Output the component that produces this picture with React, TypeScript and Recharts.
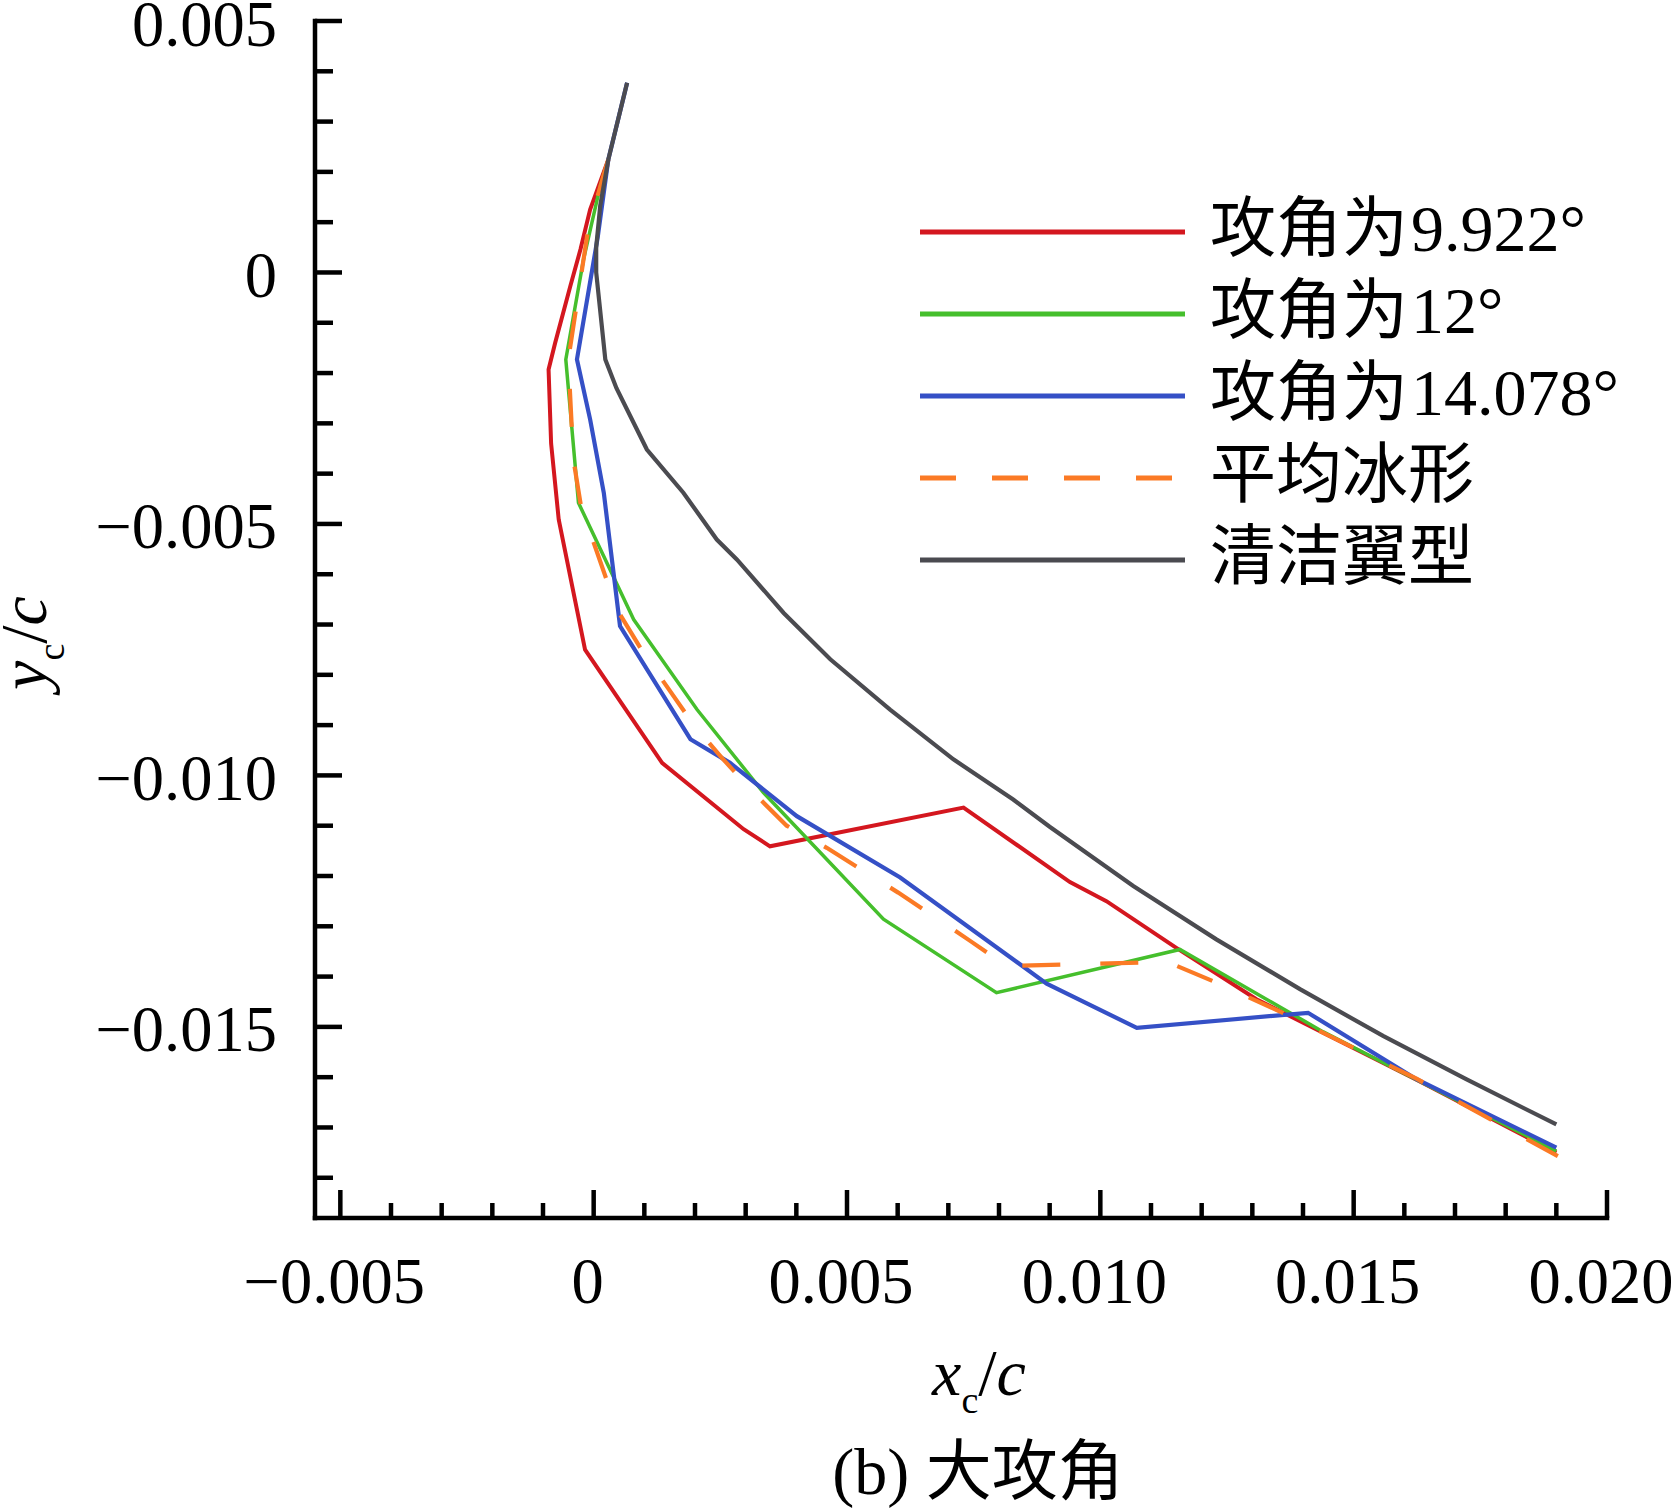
import React from "react";
import { LineChart, Line, XAxis, YAxis, Legend } from "recharts";

// ice shape contours, values in units of 1e-3 (x_c/c, y_c/c)
const cleanAirfoil: [number, number][] = [
  [0.66, 3.77], [0.29, 2.25], [0.13, 1.33], [0.05, 0.5], [0.05, 0.0],
  [0.23, -1.73], [0.45, -2.3], [1.05, -3.52], [1.77, -4.38], [2.43, -5.31],
  [2.83, -5.71], [3.75, -6.77], [4.67, -7.69], [5.85, -8.69], [7.1, -9.68],
  [8.28, -10.48], [9.0, -11.02], [10.65, -12.2], [12.29, -13.26],
  [13.94, -14.25], [15.58, -15.18], [17.22, -16.04], [19.0, -16.94],
];

const aoa9922: [number, number][] = [
  [0.29, 2.25], [-0.07, 1.25], [-0.26, 0.46], [-0.46, -0.27], [-0.76, -1.4],
  [-0.89, -1.93], [-0.84, -3.4], [-0.69, -4.91], [-0.17, -7.5], [1.35, -9.75],
  [2.96, -11.07], [3.48, -11.41], [7.3, -10.64], [9.4, -12.12], [10.12, -12.5],
  [11.5, -13.43], [13.08, -14.45], [16.24, -16.05], [19.0, -17.5],
];

const aoa12: [number, number][] = [
  [0.29, 2.25], [0.13, 1.72], [-0.2, 0.26], [-0.55, -1.73], [-0.3, -4.58],
  [0.79, -6.9], [2.04, -8.69], [3.35, -10.34], [5.72, -12.86], [7.95, -14.32],
  [11.57, -13.46], [14.4, -15.1], [16.24, -16.05], [19.0, -17.47],
];

const aoa14078: [number, number][] = [
  [0.66, 3.77], [0.29, 2.25], [0.08, 0.7], [-0.33, -1.73], [-0.07, -2.92],
  [0.2, -4.38], [0.52, -7.03], [1.91, -9.28], [2.69, -9.75], [4.01, -10.81],
  [6.05, -12.03], [8.94, -14.14], [10.72, -15.02], [14.1, -14.72],
  [16.24, -16.04], [19.0, -17.4],
];

const meanIce: [number, number][] = [
  [0.29, 2.25], [-0.1, 0.92], [-0.5, -1.73], [-0.4, -3.72], [-0.25, -4.65],
  [0.46, -6.7], [0.98, -7.56], [1.97, -8.99], [2.53, -9.65], [3.22, -10.41],
  [3.81, -11.0], [4.6, -11.44], [6.01, -12.33], [7.43, -13.29], [8.15, -13.79],
  [10.9, -13.72], [11.3, -13.7], [12.29, -14.12], [13.6, -14.72],
  [16.24, -16.03], [19.03, -17.57],
];

const xMajorTicks = [-0.005, 0, 0.005, 0.01, 0.015, 0.02];
const xMajorLabels = ["\u22120.005", "0", "0.005", "0.010", "0.015", "0.020"];
const xAllTicks = [
  -0.005, -0.004, -0.003, -0.002, -0.001, 0, 0.001, 0.002, 0.003, 0.004,
  0.005, 0.006, 0.007, 0.008, 0.009, 0.01, 0.011, 0.012, 0.013, 0.014,
  0.015, 0.016, 0.017, 0.018, 0.019, 0.02,
];

const yMajorTicks = [0.005, 0, -0.005, -0.01, -0.015];
const yMajorLabels = ["0.005", "0", "\u22120.005", "\u22120.010", "\u22120.015"];
const yAllTicks = [
  0.005, 0.004, 0.003, 0.002, 0.001, 0, -0.001, -0.002, -0.003, -0.004,
  -0.005, -0.006, -0.007, -0.008, -0.009, -0.01, -0.011, -0.012, -0.013,
  -0.014, -0.015, -0.016, -0.017, -0.018,
];

const SERIF = "'Liberation Serif', 'Times New Roman', serif";
const CJK = "'Noto Sans CJK SC', sans-serif";
const FONT = "'Liberation Serif', 'Times New Roman', 'Noto Sans CJK SC', serif";

const toPoints = (arr: [number, number][]) =>
  arr.map(([x, y]) => ({ x: x / 1000, y: y / 1000 }));

const series = [
  { key: "a9922", han: "攻角为", rest: "9.922°", color: "#d4171f", width: 4, dash: false, pts: aoa9922 },
  { key: "a12", han: "攻角为", rest: "12°", color: "#45bf2c", width: 3.5, dash: false, pts: aoa12 },
  { key: "a14078", han: "攻角为", rest: "14.078°", color: "#3550c6", width: 4.2, dash: false, pts: aoa14078 },
  { key: "mean", han: "平均冰形", rest: "", color: "#fb7a25", width: 4.2, dash: true, pts: meanIce },
  { key: "clean", han: "清洁翼型", rest: "", color: "#4b4b50", width: 4.2, dash: false, pts: cleanAirfoil },
];

const findMajor = (list: number[], v: number) =>
  list.findIndex((m) => Math.abs(m - v) < 1e-9);

const renderXTick = (props: any) => {
  const { x, y, payload } = props;
  const idx = findMajor(xMajorTicks, payload.value);
  const major = idx >= 0;
  return (
    <g>
      <line x1={x} x2={x} y1={y} y2={y - (major ? 28 : 15)} stroke="#000" strokeWidth={4.5} />
      {major && (
        <text x={x - 6} y={y + 85} textAnchor="middle" fontSize={64.5} fontFamily={SERIF} fill="#000">
          {xMajorLabels[idx]}
        </text>
      )}
    </g>
  );
};

const renderYTick = (props: any) => {
  const { x, y, payload } = props;
  const idx = findMajor(yMajorTicks, payload.value);
  const major = idx >= 0;
  return (
    <g>
      <line x1={x} x2={x + (major ? 27 : 18)} y1={y} y2={y} stroke="#000" strokeWidth={4.5} />
      {major && (
        <text x={x - 38} y={y} dy="0.38em" textAnchor="end" fontSize={64.5} fontFamily={SERIF} fill="#000">
          {yMajorLabels[idx]}
        </text>
      )}
    </g>
  );
};

const XLabel = () => (
  <text x={979} y={1395} textAnchor="middle" fontSize={66} fontFamily={SERIF} fill="#000">
    <tspan fontStyle="italic">x</tspan>
    <tspan fontSize={38} dy={18}>c</tspan>
    <tspan dy={-18}>/</tspan>
    <tspan fontStyle="italic">c</tspan>
  </text>
);

const YLabel = () => (
  <text
    x={46}
    y={643}
    transform="rotate(-90, 46, 643)"
    textAnchor="middle"
    fontSize={66}
    fontFamily={SERIF}
    fill="#000"
  >
    <tspan fontStyle="italic">y</tspan>
    <tspan fontSize={38} dy={18}>c</tspan>
    <tspan dy={-18}>/</tspan>
    <tspan fontStyle="italic">c</tspan>
  </text>
);

const ROW = 82;
const LEGEND_FS = 66;
const renderLegend = () => (
  <svg width={720} height={ROW * series.length} style={{ display: "block", overflow: "visible" }}>
    {series.map((s, i) => {
      const cy = 41 + i * ROW;
      return (
        <g key={s.key}>
          <line
            x1={0}
            x2={265}
            y1={cy}
            y2={cy}
            stroke={s.color}
            strokeWidth={5}
            strokeDasharray={s.dash ? "36 36" : undefined}
          />
          <text x={290} y={cy + 19} fontSize={LEGEND_FS} fontFamily={CJK} fill="#000">
            {s.han}
          </text>
          {s.rest && (
            <text
              x={290 + s.han.length * LEGEND_FS + 3}
              y={cy + 19}
              fontSize={LEGEND_FS}
              fontFamily={SERIF}
              fill="#000"
            >
              {s.rest}
            </text>
          )}
        </g>
      );
    })}
  </svg>
);

// drawing order: red, green, blue, orange dashed, clean airfoil on top
const drawOrder = ["a9922", "a12", "a14078", "mean", "clean"];

export default function App() {
  return (
    <div style={{ position: "absolute", left: 0, top: 0, width: 1672, height: 1508, background: "#fff" }}>
      <LineChart width={1672} height={1508} margin={{ top: 21, right: 65, bottom: 0, left: 0 }}>
        <XAxis
          type="number"
          dataKey="x"
          domain={[-0.0055, 0.02]}
          ticks={xAllTicks}
          interval={0}
          allowDataOverflow
          height={290}
          tickSize={0}
          tickMargin={0}
          tickLine={false}
          axisLine={{ stroke: "#000", strokeWidth: 4.5, strokeLinecap: "square" }}
          tick={renderXTick}
          label={{ content: XLabel }}
        />
        <YAxis
          type="number"
          dataKey="y"
          domain={[-0.0188, 0.005]}
          ticks={yAllTicks}
          interval={0}
          allowDataOverflow
          width={315}
          tickSize={0}
          tickMargin={0}
          tickLine={false}
          axisLine={{ stroke: "#000", strokeWidth: 4.5, strokeLinecap: "square" }}
          tick={renderYTick}
          label={{ content: YLabel }}
        />
        <Legend
          layout="vertical"
          align="center"
          verticalAlign="middle"
          content={renderLegend}
          wrapperStyle={{ position: "absolute", left: 920, top: 191, width: 720, margin: 0 }}
        />
        {drawOrder.map((k) => {
          const s = series.find((d) => d.key === k)!;
          return (
            <Line
              key={s.key}
              data={toPoints(s.pts)}
              dataKey="y"
              name={s.han + s.rest}
              type="linear"
              stroke={s.color}
              strokeWidth={s.width}
              strokeDasharray={s.dash ? "38 40" : undefined}
              dot={false}
              activeDot={false}
              isAnimationActive={false}
              legendType="none"
            />
          );
        })}
      </LineChart>
      <svg
        width={1672}
        height={1508}
        style={{ position: "absolute", left: 0, top: 0, pointerEvents: "none" }}
      >
        <text x={978} y={1494} textAnchor="middle" fontSize={66} fontFamily={FONT} fill="#000">
          (b) 大攻角
        </text>
      </svg>
    </div>
  );
}
